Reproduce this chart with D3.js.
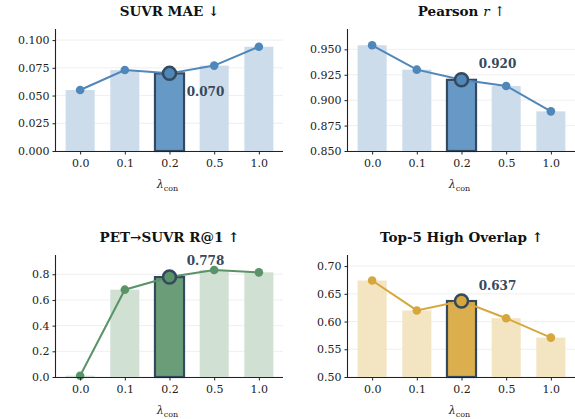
<!DOCTYPE html>
<html>
<head>
<meta charset="utf-8">
<script src="https://cdn.jsdelivr.net/npm/d3@7"></script>
<style>
  body { margin: 0; background: #fff; }
</style>
</head>
<body>
<svg id="chart" width="575" height="419"></svg>
<script>
const lambdas = ["0.0", "0.1", "0.2", "0.5", "1.0"];
const best = 2;

const maeVals = [0.055, 0.073, 0.070, 0.077, 0.094];
const pearsonVals = [0.954, 0.930, 0.920, 0.914, 0.889];
const recallVals = [0.01, 0.680, 0.778, 0.833, 0.815];
const overlapVals = [0.674, 0.620, 0.637, 0.606, 0.571];

const maeTicks = [0, 0.025, 0.05, 0.075, 0.1];
const pearsonTicks = [0.85, 0.875, 0.9, 0.925, 0.95];
const recallTicks = [0, 0.2, 0.4, 0.6, 0.8];
const overlapTicks = [0.5, 0.55, 0.6, 0.65, 0.7];

const SERIF = "'DejaVu Serif', 'Liberation Serif', serif";

const panels = [
  { title: "SUVR MAE ↓", vals: maeVals, ticks: maeTicks, dom: [0, 0.11], fmt: ".3f",
    x: 56, y: 29, line: "#4f87ba", hi: "#6699c5", light: "#cddcea", lab: "0.070", labDy: 18 },
  { title: "Pearson r ↑", vals: pearsonVals, ticks: pearsonTicks, dom: [0.85, 0.97], fmt: ".3f",
    x: 348, y: 29, line: "#4f87ba", hi: "#6699c5", light: "#cddcea", lab: "0.920", labDy: -16, italic: true },
  { title: "PET→SUVR R@1 ↑", vals: recallVals, ticks: recallTicks, dom: [0, 0.95], fmt: ".1f",
    x: 56, y: 255, line: "#5a9367", hi: "#6b9e78", light: "#d0e0d3", lab: "0.778", labDy: -16 },
  { title: "Top-5 High Overlap ↑", vals: overlapVals, ticks: overlapTicks, dom: [0.5, 0.72], fmt: ".2f",
    x: 348, y: 255, line: "#d5a73d", hi: "#dbaf4d", light: "#f3e4c2", lab: "0.637", labDy: -15 }
];

const W = 227, H = 122;
const edge = "#34495e";
const svg = d3.select("#chart");

panels.forEach(p => {
  const g = svg.append("g").attr("transform", `translate(${p.x},${p.y})`);

  const x = d3.scaleLinear().domain([-0.54, 4.54]).range([0, W]);
  const y = d3.scaleLinear().domain(p.dom).range([H, 0]);
  const bw = x(0.65) - x(0);

  // grid
  g.selectAll(".grid").data(p.ticks).enter().append("line")
    .attr("x1", 0).attr("x2", W)
    .attr("y1", d => y(d)).attr("y2", d => y(d))
    .attr("stroke", "#ebebeb").attr("stroke-width", 0.8);

  // bars
  g.selectAll(".bar").data(p.vals).enter().append("rect")
    .attr("x", (d, i) => x(i) - bw / 2)
    .attr("width", bw)
    .attr("y", d => y(d))
    .attr("height", d => y(p.dom[0]) - y(d))
    .attr("fill", (d, i) => i === best ? p.hi : p.light)
    .attr("stroke", (d, i) => i === best ? edge : "none")
    .attr("stroke-width", 2.2);

  // line
  const line = d3.line().x((d, i) => x(i)).y(d => y(d));
  g.append("path").datum(p.vals)
    .attr("d", line).attr("fill", "none")
    .attr("stroke", p.line).attr("stroke-width", 2);

  g.selectAll(".pt").data(p.vals).enter().append("circle")
    .attr("cx", (d, i) => x(i)).attr("cy", d => y(d))
    .attr("r", (d, i) => i === best ? 6.5 : 4.3)
    .attr("fill", p.line)
    .attr("stroke", (d, i) => i === best ? edge : "none")
    .attr("stroke-width", 2.5);

  // value label
  g.append("text")
    .attr("x", x(best) + 36).attr("y", y(p.vals[best]) + p.labDy)
    .attr("dy", "0.35em").attr("text-anchor", "middle")
    .style("font-family", SERIF)
    .attr("font-size", 12).attr("font-weight", "bold").attr("fill", edge)
    .text(p.lab);

  // axes
  const yAxis = d3.axisLeft(y).tickValues(p.ticks).tickFormat(d3.format(p.fmt)).tickSize(3.5).tickPadding(3);
  const ya = g.append("g").call(yAxis);
  ya.select(".domain").attr("d", `M-0.5,${H}V0`);

  const xAxis = d3.axisBottom(x).tickValues(d3.range(lambdas.length))
    .tickFormat(i => lambdas[i]).tickSize(3.5).tickPadding(5);
  const xa = g.append("g").attr("transform", `translate(0,${H})`).call(xAxis);
  xa.select(".domain").attr("d", `M0,0.5H${W}`);

  [ya, xa].forEach(a => {
    a.attr("font-family", null);
    a.selectAll("text").attr("font-size", 11).attr("fill", "#222")
      .style("font-family", SERIF);
    a.selectAll("line").attr("stroke", "#222");
    a.select(".domain").attr("stroke", "#222").attr("stroke-width", 1.1);
  });

  // x label
  const xl = g.append("text").attr("x", W / 2 - 2).attr("y", H + 37)
    .attr("text-anchor", "middle").attr("font-size", 11).attr("fill", "#222")
    .style("font-family", SERIF);
  xl.append("tspan").attr("font-style", "italic").text("λ");
  xl.append("tspan").attr("font-size", 8).attr("dy", 3).text("con");

  // title
  const t = g.append("text").attr("x", W / 2).attr("y", -13)
    .attr("text-anchor", "middle").attr("font-size", 13.5)
    .style("font-family", SERIF)
    .attr("font-weight", "bold").attr("fill", "#111");
  if (p.italic) {
    t.append("tspan").text("Pearson ");
    t.append("tspan").attr("font-style", "italic").attr("font-weight", "normal").text("r");
    t.append("tspan").attr("font-weight", "normal").text(" ↑");
  } else {
    t.text(p.title);
  }
});
</script>
</body>
</html>
